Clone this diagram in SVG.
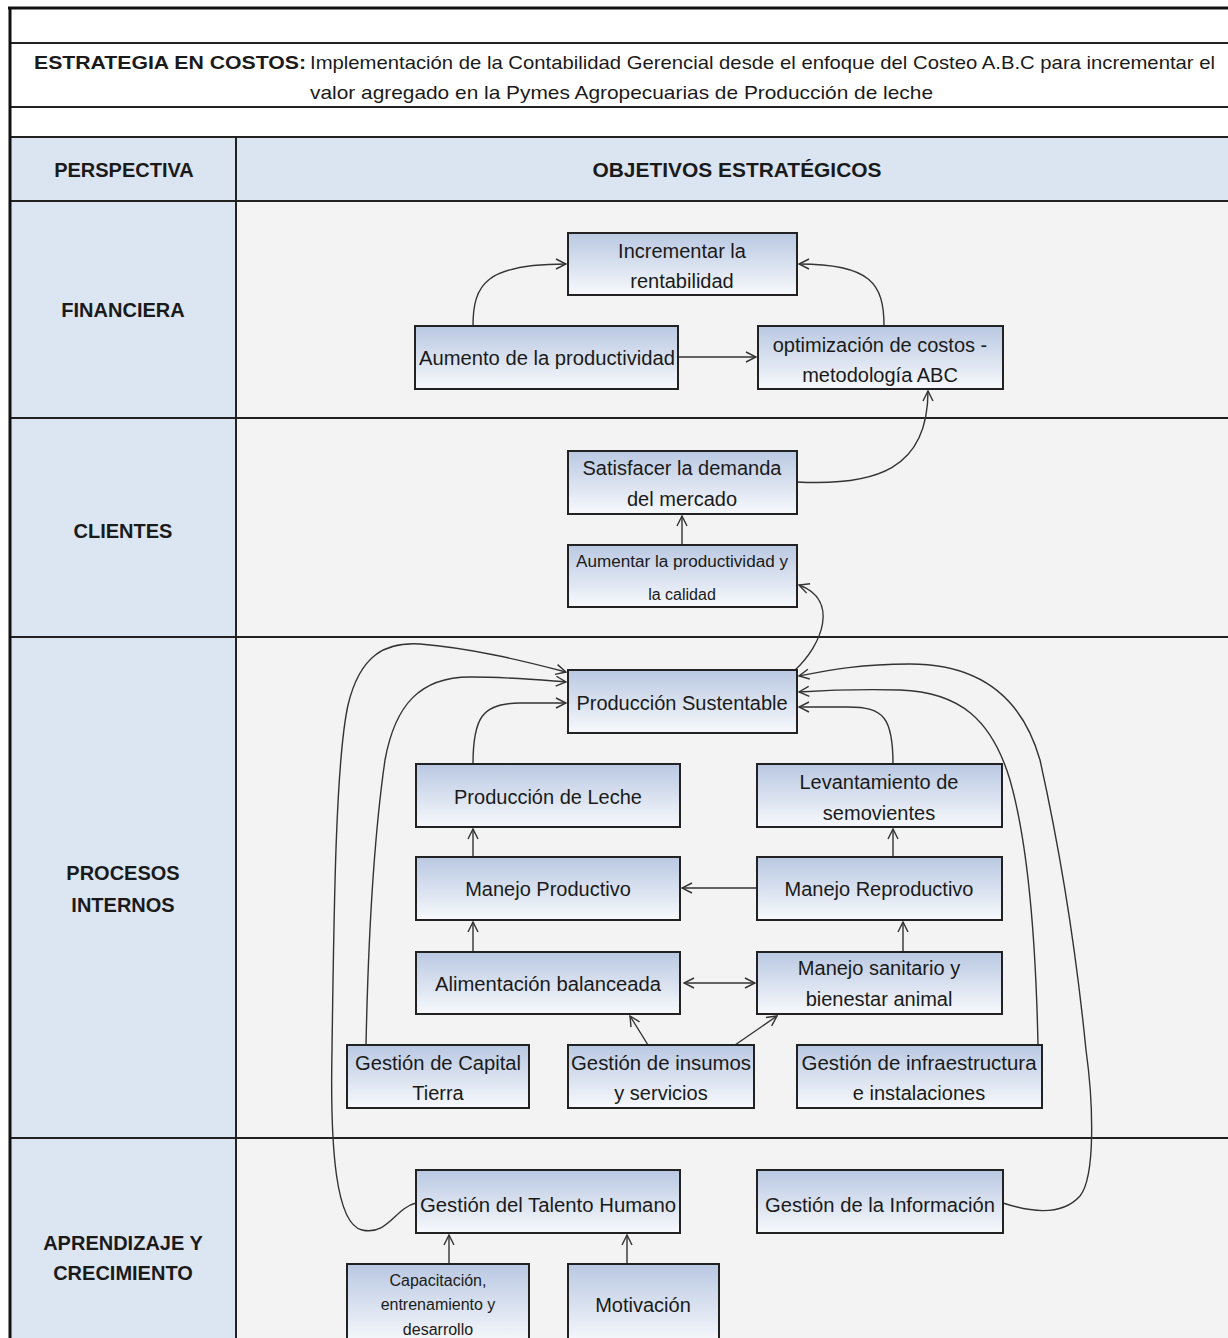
<svg xmlns="http://www.w3.org/2000/svg" width="1228" height="1338" viewBox="0 0 1228 1338">
<defs>
<linearGradient id="ng" x1="0" y1="0" x2="0" y2="1">
<stop offset="0" stop-color="#b9c8e2"/>
<stop offset="1" stop-color="#f7f9fc"/>
</linearGradient>
<marker id="ah" viewBox="0 0 12 12" markerWidth="12" markerHeight="12" refX="11" refY="6" orient="auto-start-reverse" markerUnits="userSpaceOnUse">
<path d="M1,1 L11,6 L1,11" fill="none" stroke="#333" stroke-width="1.4"/>
</marker>
<style>
.n rect{fill:url(#ng);stroke:#222;stroke-width:2}
.n text,.t{font-family:"Liberation Sans",Arial,sans-serif;fill:#1a1a1a;text-anchor:middle}
.n text{font-size:20px}
.n .s{font-size:16px}
.n .xs{font-size:16px}
.h{font-family:"Liberation Sans",Arial,sans-serif;font-weight:bold;font-size:20px;fill:#1a1a1a;text-anchor:middle}
.g line{stroke:#222;stroke-width:2}
.c path{fill:none;stroke:#333;stroke-width:1.4;marker-end:url(#ah)}
</style>
</defs>
<rect x="0" y="0" width="1228" height="1338" fill="#ffffff"/>
<g id="table">
<rect x="10" y="137" width="1218" height="64" fill="#dbe5f1"/>
<rect x="10" y="201" width="226" height="1137" fill="#dce6f2"/>
<rect x="236" y="201" width="992" height="1137" fill="#f3f3f3"/>
<g class="g">
<line x1="10" y1="43" x2="1228" y2="43"/>
<line x1="10" y1="107" x2="1228" y2="107"/>
<line x1="10" y1="137" x2="1228" y2="137"/>
<line x1="10" y1="201" x2="1228" y2="201"/>
<line x1="10" y1="418" x2="1228" y2="418"/>
<line x1="10" y1="637" x2="1228" y2="637"/>
<line x1="10" y1="1138" x2="1228" y2="1138"/>
<line x1="236" y1="137" x2="236" y2="1338"/>
</g>
<line x1="8" y1="8" x2="1228" y2="8" stroke="#111" stroke-width="3"/>
<line x1="10" y1="7" x2="10" y2="1338" stroke="#111" stroke-width="3"/>
<text x="34" y="69" font-family="Liberation Sans,Arial,sans-serif" font-weight="bold" font-size="19" fill="#1a1a1a" textLength="272" lengthAdjust="spacingAndGlyphs">ESTRATEGIA EN COSTOS:</text>
<text x="310" y="69" font-family="Liberation Sans,Arial,sans-serif" font-size="19" fill="#1a1a1a" textLength="905" lengthAdjust="spacingAndGlyphs">Implementación de la Contabilidad Gerencial desde el enfoque del Costeo A.B.C para incrementar el</text>
<text x="310" y="99" font-family="Liberation Sans,Arial,sans-serif" font-size="19" fill="#1a1a1a" textLength="623" lengthAdjust="spacingAndGlyphs">valor agregado en la Pymes Agropecuarias de Producción de leche</text>
<text class="h" x="124" y="177">PERSPECTIVA</text>
<text class="h" x="737" y="177" textLength="289" lengthAdjust="spacingAndGlyphs">OBJETIVOS ESTRATÉGICOS</text>
<text class="h" x="123" y="317">FINANCIERA</text>
<text class="h" x="123" y="538">CLIENTES</text>
<text class="h" x="123" y="880">PROCESOS</text>
<text class="h" x="123" y="912">INTERNOS</text>
<text class="h" x="123" y="1250">APRENDIZAJE Y</text>
<text class="h" x="123" y="1280">CRECIMIENTO</text>
</g>
<g class="c" id="connectors">
<path d="M473,326 C473,284 486,264 566,264"/>
<path d="M884,326 C884,284 871,264 799,264"/>
<path d="M678,357 L756,357"/>
<path d="M797,482 C875,486 928,470 928,391"/>
<path d="M682,545 L682,516"/>
<path d="M795,670 C822,645 840,600 799,585"/>
<path d="M416,1203 C395,1208 388,1236 362,1230 C336,1224 330,1150 332,1050 C334,900 336,760 348,705 C360,655 385,642 420,644 C470,648 520,660 566,672"/>
<path d="M366,1045 C368,950 372,850 385,760 C395,705 420,677 470,677 C510,677 540,680 566,682"/>
<path d="M473,764 C473,718 482,703 520,703 L566,703"/>
<path d="M893,764 C893,718 884,707 848,707 L799,707"/>
<path d="M1038,1045 C1036,950 1030,850 1010,780 C992,720 960,692 900,690 C860,689 830,690 799,692"/>
<path d="M1003,1203 C1030,1212 1062,1216 1080,1196 C1096,1176 1093,1100 1086,1050 C1076,950 1060,850 1040,760 C1020,690 972,664 910,664 C860,664 830,670 799,676"/>
<path d="M473,857 L473,829"/>
<path d="M893,857 L893,829"/>
<path d="M757,888 L682,888"/>
<path d="M473,952 L473,922"/>
<path d="M903,952 L903,922"/>
<path d="M684,983 L755,983" marker-start="url(#ah)"/>
<path d="M648,1045 L630,1016"/>
<path d="M735,1045 L777,1016"/>
<path d="M449,1264 L449,1235"/>
<path d="M627,1264 L627,1235"/>
</g>
<g class="n" id="n-incrementar"><rect x="568" y="233" width="229" height="62"/><text x="682" y="258">Incrementar la</text><text x="682" y="288">rentabilidad</text></g>
<g class="n" id="n-aumento"><rect x="415" y="326" width="263" height="63"/><text x="547" y="365" textLength="256" lengthAdjust="spacingAndGlyphs">Aumento de la productividad</text></g>
<g class="n" id="n-optimizacion"><rect x="758" y="326" width="245" height="63"/><text x="880" y="352">optimización de costos -</text><text x="880" y="382">metodología ABC</text></g>
<g class="n" id="n-satisfacer"><rect x="568" y="451" width="229" height="63"/><text x="682" y="475">Satisfacer la demanda</text><text x="682" y="506">del mercado</text></g>
<g class="n" id="n-aumentar"><rect x="568" y="545" width="229" height="62"/><text class="s" x="682" y="567" textLength="212" lengthAdjust="spacingAndGlyphs">Aumentar la productividad y</text><text class="s" x="682" y="600">la calidad</text></g>
<g class="n" id="n-sustentable"><rect x="568" y="670" width="229" height="63"/><text x="682" y="710">Producción Sustentable</text></g>
<g class="n" id="n-leche"><rect x="416" y="764" width="264" height="63"/><text x="548" y="804">Producción de Leche</text></g>
<g class="n" id="n-levantamiento"><rect x="757" y="764" width="245" height="63"/><text x="879" y="789">Levantamiento de</text><text x="879" y="820">semovientes</text></g>
<g class="n" id="n-productivo"><rect x="416" y="857" width="264" height="63"/><text x="548" y="896">Manejo Productivo</text></g>
<g class="n" id="n-reproductivo"><rect x="757" y="857" width="245" height="63"/><text x="879" y="896">Manejo Reproductivo</text></g>
<g class="n" id="n-alimentacion"><rect x="416" y="952" width="264" height="62"/><text x="548" y="991" textLength="226" lengthAdjust="spacingAndGlyphs">Alimentación balanceada</text></g>
<g class="n" id="n-sanitario"><rect x="757" y="952" width="245" height="62"/><text x="879" y="975">Manejo sanitario y</text><text x="879" y="1006">bienestar animal</text></g>
<g class="n" id="n-capital"><rect x="347" y="1045" width="182" height="63"/><text x="438" y="1070" textLength="166" lengthAdjust="spacingAndGlyphs">Gestión de Capital</text><text x="438" y="1100">Tierra</text></g>
<g class="n" id="n-insumos"><rect x="568" y="1045" width="186" height="63"/><text x="661" y="1070" textLength="180" lengthAdjust="spacingAndGlyphs">Gestión de insumos</text><text x="661" y="1100">y servicios</text></g>
<g class="n" id="n-infraestructura"><rect x="797" y="1045" width="245" height="63"/><text x="919" y="1070" textLength="235" lengthAdjust="spacingAndGlyphs">Gestión de infraestructura</text><text x="919" y="1100">e instalaciones</text></g>
<g class="n" id="n-talento"><rect x="416" y="1170" width="264" height="63"/><text x="548" y="1212" textLength="256" lengthAdjust="spacingAndGlyphs">Gestión del Talento Humano</text></g>
<g class="n" id="n-informacion"><rect x="757" y="1170" width="246" height="63"/><text x="880" y="1212" textLength="230" lengthAdjust="spacingAndGlyphs">Gestión de la Información</text></g>
<g class="n" id="n-capacitacion"><rect x="347" y="1264" width="182" height="80"/><text class="xs" x="438" y="1286">Capacitación,</text><text class="xs" x="438" y="1310">entrenamiento y</text><text class="xs" x="438" y="1335">desarrollo</text></g>
<g class="n" id="n-motivacion"><rect x="568" y="1264" width="151" height="80"/><text x="643" y="1312">Motivación</text></g>
</svg>
